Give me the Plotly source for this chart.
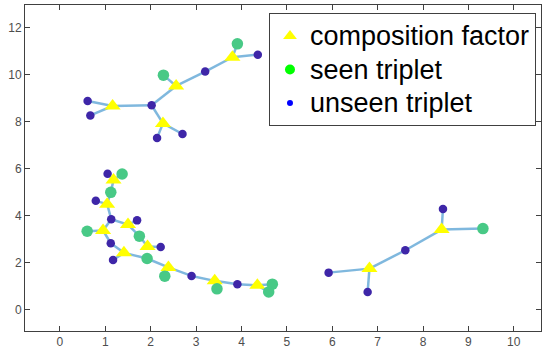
import plotly.graph_objects as go

# Node data: x, y, type (T = composition factor, S = seen triplet, U = unseen triplet)
node_x = [0.61, 0.67, 1.16, 2.02, 2.27, 2.14, 2.70, 2.28, 2.56, 3.20, 3.80, 3.91, 4.36,
          1.05, 1.37, 1.18, 1.12, 0.79, 1.04, 1.13, 1.70, 1.50, 0.60, 0.95, 1.75, 1.93,
          2.22, 1.12, 1.41, 1.17, 1.92, 2.39, 2.31, 2.90, 3.41, 3.46, 3.91, 4.35, 4.68,
          4.60,
          5.92, 6.82, 6.78, 7.61, 8.41, 8.44, 9.32]
node_y = [8.87, 8.26, 8.66, 8.69, 7.92, 7.30, 7.47, 9.97, 9.51, 10.12, 10.73, 11.30, 10.84,
          5.78, 5.77, 5.51, 4.99, 4.63, 4.49, 3.85, 3.80, 3.62, 3.34, 3.37, 3.13, 2.69,
          2.67, 2.83, 2.42, 2.12, 2.18, 1.80, 1.43, 1.44, 1.23, 0.89, 1.09, 1.04, 1.09,
          0.76,
          1.58, 1.75, 0.76, 2.53, 3.41, 4.28, 3.45]
node_type = ["U", "U", "T", "U", "T", "U", "U", "S", "T", "U", "T", "S", "U",
             "U", "S", "T", "S", "U", "T", "U", "U", "T", "S", "T", "S", "T",
             "U", "U", "T", "U", "S", "T", "S", "U", "T", "S", "U", "T", "S",
             "S",
             "U", "T", "U", "U", "T", "U", "S"]
edges = [(0, 2), (1, 2), (2, 3), (3, 4), (4, 5), (4, 6), (3, 8), (7, 8), (8, 9), (9, 10),
         (10, 11), (10, 12),
         (13, 15), (14, 15), (15, 16), (16, 18), (17, 18), (18, 19), (19, 21), (19, 23),
         (20, 21), (21, 24), (24, 25), (25, 26), (22, 23), (23, 27), (27, 28), (28, 29),
         (28, 30), (30, 31), (31, 32), (31, 33), (33, 34), (34, 35), (34, 36), (36, 37),
         (37, 38), (37, 39),
         (40, 41), (41, 42), (41, 43), (43, 44), (44, 45), (44, 46)]

legend_labels = ["composition factor", "seen triplet", "unseen triplet"]
x_ticks = list(range(0, 11))
y_ticks = list(range(0, 13, 2))

style = {
    "T": dict(symbol="triangle-up", size=14, color="#FFFF00"),
    "S": dict(symbol="circle", size=11.5, color="#48C986"),
    "U": dict(symbol="circle", size=8.5, color="#3E26A8"),
}

ex, ey = [], []
for a, b in edges:
    ex += [node_x[a], node_x[b], None]
    ey += [node_y[a], node_y[b], None]

fig = go.Figure()
fig.add_trace(go.Scatter(x=ex, y=ey, mode="lines",
                         line=dict(color="rgba(0,114,189,0.5)", width=2.5),
                         showlegend=False, hoverinfo="skip"))
fig.add_trace(go.Scatter(
    x=node_x, y=node_y, mode="markers", showlegend=False,
    marker=dict(symbol=[style[t]["symbol"] for t in node_type],
                size=[style[t]["size"] for t in node_type],
                color=[style[t]["color"] for t in node_type],
                opacity=1,
                line=dict(width=0))))

# legend-only entries (legend uses pure colours)
leg_style = [("triangle-up", 12, "#FFFF00"), ("circle", 10, "#00FF00"), ("circle", 6, "#0000FF")]
for lab, (sym, sz, col) in zip(legend_labels, leg_style):
    fig.add_trace(go.Scatter(x=[None], y=[None], mode="markers",
                             name='<span style="font-size:27px">%s</span>' % lab,
                             marker=dict(symbol=sym, size=sz, color=col, line=dict(width=0))))

axis_common = dict(showline=True, linecolor="#404040", linewidth=1, mirror="ticks",
                   ticks="inside", ticklen=5, tickcolor="#404040", showgrid=False,
                   zeroline=False, tickfont=dict(family="Liberation Sans", size=12, color="#4d4d4d"))

fig.update_layout(
    width=545, height=356,
    margin=dict(l=25, r=4, t=5, b=25),
    plot_bgcolor="white", paper_bgcolor="white",
    xaxis=dict(range=[-0.77, 10.6], tickvals=x_ticks, **axis_common),
    yaxis=dict(range=[-0.9, 12.95], tickvals=y_ticks, **axis_common),
    legend=dict(x=0.9903, y=0.975, xanchor="right", yanchor="top",
                bgcolor="white", bordercolor="#404040", borderwidth=1,
                font=dict(family="Liberation Sans", size=23.5, color="black"),
                tracegroupgap=0),
    showlegend=True,
)

fig.write_html("out.html")
